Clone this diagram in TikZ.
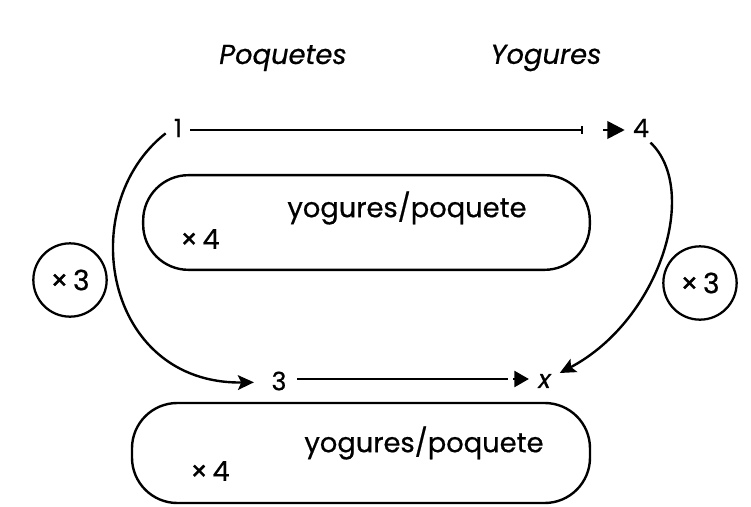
\documentclass[tikz,border=0pt]{standalone}
\usepackage{fontspec}
\setmainfont{Poppins}[FakeBold=0.6]
\usetikzlibrary{arrows.meta}
\begin{document}
\begin{tikzpicture}[x=0.75pt,y=-0.75pt,
  lbl/.style={inner sep=1pt,font=\fontsize{19}{22}\selectfont},
  big/.style={inner sep=1pt,font=\fontsize{20.5}{24}\selectfont},
  head/.style={inner sep=1pt,font=\fontsize{20.5}{24}\selectfont\itshape},
  capsule/.style={draw,line width=1.8pt,rounded corners=34pt,inner sep=0pt},
  ring/.style={draw,circle,line width=1.7pt,minimum size=55pt,inner sep=0pt,font=\fontsize{21}{24}\selectfont},
  straight/.style={line width=2pt},
  barline/.style={straight,-{Bar[width=6pt,line width=1.2pt]}},
  headtip/.style={straight,-{Triangle[length=13pt,width=13pt]}},
  smalltip/.style={straight,-{Triangle[length=11pt,width=12pt]}},
  curvearrow/.style={line width=1.8pt,-{Stealth[length=12pt,width=11pt,inset=2.5pt]}}]
\useasboundingbox (0,0) rectangle (751,507);
\fill[white] (0,0) rectangle (751,507);

% column headings
\node[head] (hp) at (283,58) {Poquetes};
\node[head] (hy) at (546,58) {Yogures};

% top row: 1 --------| > 4
\node[lbl] (one) at (178,128) {1};
\node[lbl] (four) at (641,128) {4};
\coordinate (barA) at (583,130);
\draw[barline] ([shift={(5pt,-1.5pt)}]one.east) -- (barA);
\draw[headtip] ([xshift=-21pt,yshift=-1.5pt]four.west) -- ([xshift=-5pt,yshift=-1.5pt]four.west);

% first conversion box
\node[capsule,minimum width=335pt,minimum height=71pt] (box1) at (366.5,222.5) {};
\node[big] (rate1) at (407,208) {yogures/poquete};
\node[big] (mul1) at (200,239) {×\,4};

% side multipliers
\node[ring] (l3) at (70,280) {×\,3};
\node[ring] (r3) at (700,283) {×\,3};

% bottom row: 3 ------ > x
\node[lbl] (three) at (279,381) {3};
\node[lbl] (xx) at (545,381) {\textit{x}};
\draw[straight] ([xshift=7pt,yshift=1.5pt]three.east) -- ([xshift=-22pt,yshift=1.5pt]xx.west);
\draw[smalltip] ([xshift=-18pt,yshift=1.5pt]xx.west) -- ([xshift=-6pt,yshift=1.5pt]xx.west);

% curved arrows between rows
\draw[curvearrow] ([shift={(-5pt,-4pt)}]one.west) .. controls +(-92,72) and +(-150,2) .. ([xshift=-12pt,yshift=-1pt]three.west);
\draw[curvearrow] ([shift={(0pt,-3pt)}]four.south east) .. controls (700,190) and (660,320) .. ([xshift=5pt,yshift=6pt]xx.east);

% second conversion box
\node[capsule,minimum width=343.5pt,minimum height=75pt] (box2) at (361,453) {};
\node[big] (rate2) at (424,443) {yogures/poquete};
\node[big] (mul2) at (210,471) {×\,4};
\end{tikzpicture}
\end{document}
